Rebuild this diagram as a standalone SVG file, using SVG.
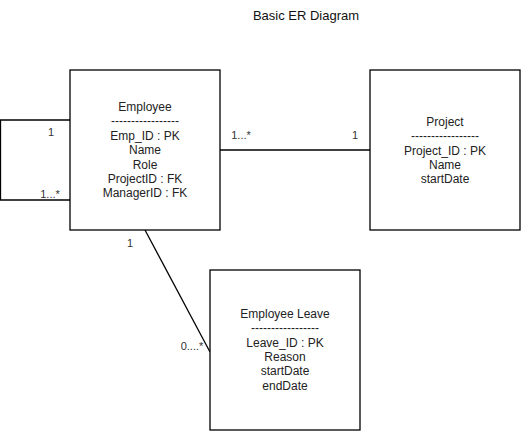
<svg xmlns="http://www.w3.org/2000/svg" width="521" height="431" viewBox="0 0 521 431">
<style>
.box{fill:#fff;stroke:#000;stroke-width:1.3}
.t{font-family:"Liberation Sans",Arial,sans-serif;font-size:12px;fill:#222;text-anchor:middle}
.lbl{font-family:"Liberation Sans",Arial,sans-serif;font-size:11px;fill:#333;text-anchor:middle}
.edge{fill:none;stroke:#000;stroke-width:1.3}
</style>
<rect width="521" height="431" fill="#fff"/>
<text class="t" x="306" y="20" style="font-size:13px;fill:#111">Basic ER Diagram</text>
<g id="connectors">
<polyline class="edge" points="70,120 0.5,120 0.5,200 70,200"/>
<line class="edge" x1="220" y1="150" x2="370" y2="150"/>
<line class="edge" x1="145" y1="230" x2="210" y2="352"/>
<text class="lbl" x="51" y="136">1</text>
<text class="lbl" x="50" y="198">1...*</text>
<text class="lbl" x="241" y="139">1...*</text>
<text class="lbl" x="355" y="139">1</text>
<text class="lbl" x="130" y="247">1</text>
<text class="lbl" x="192" y="350">0....*</text>
</g>
<g id="employee">
<rect class="box" x="70" y="70" width="150" height="160"/>
<text class="t" x="145" y="111">Employee</text>
<text class="t" x="145" y="125">-----------------</text>
<text class="t" x="145" y="140">Emp_ID : PK</text>
<text class="t" x="145" y="154">Name</text>
<text class="t" x="145" y="169">Role</text>
<text class="t" x="145" y="183">ProjectID : FK</text>
<text class="t" x="145" y="197">ManagerID : FK</text>
</g>
<g id="project">
<rect class="box" x="370" y="70" width="150" height="160"/>
<text class="t" x="445" y="126">Project</text>
<text class="t" x="445" y="140">-----------------</text>
<text class="t" x="445" y="155">Project_ID : PK</text>
<text class="t" x="445" y="169">Name</text>
<text class="t" x="445" y="183">startDate</text>
</g>
<g id="employee-leave">
<rect class="box" x="210" y="270" width="150" height="160"/>
<text class="t" x="285" y="318">Employee Leave</text>
<text class="t" x="285" y="332">-----------------</text>
<text class="t" x="285" y="347">Leave_ID : PK</text>
<text class="t" x="285" y="361">Reason</text>
<text class="t" x="285" y="375">startDate</text>
<text class="t" x="285" y="390">endDate</text>
</g>
</svg>
